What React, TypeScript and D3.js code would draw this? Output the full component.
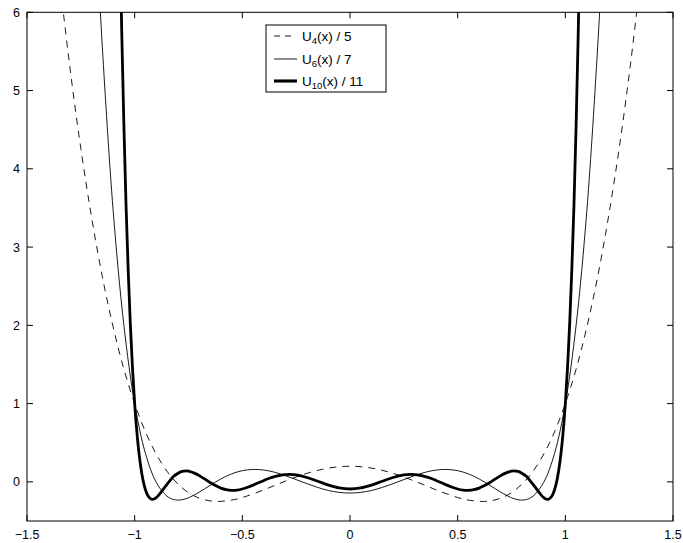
import React from "react";
import * as d3 from "d3";

// Values
const u4X = [-1.4, -1.35, -1.3, -1.25, -1.2, -1.15, -1.1, -1.05, -1, -0.95, -0.9, -0.85, -0.8, -0.75, -0.7, -0.65, -0.612, -0.55, -0.5, -0.4, -0.3, -0.2, -0.1, 0,
  0.1, 0.2, 0.3, 0.4, 0.5, 0.55, 0.612, 0.65, 0.7, 0.75, 0.8, 0.85, 0.9, 0.95, 1, 1.05, 1.1, 1.15, 1.2, 1.25, 1.3, 1.35, 1.4];
const u4Y = [7.79, 6.46, 5.28, 4.26, 3.38, 2.62, 1.98, 1.44, 1.0, 0.64, 0.356, 0.136, -0.025, -0.138, -0.208, -0.243, -0.25, -0.233, -0.2, -0.102, 0.01, 0.109, 0.176, 0.2,
  0.176, 0.109, 0.01, -0.102, -0.2, -0.233, -0.25, -0.243, -0.208, -0.138, -0.025, 0.136, 0.356, 0.64, 1.0, 1.44, 1.98, 2.62, 3.38, 4.26, 5.28, 6.46, 7.79];

const u6X = [-1.2, -1.17, -1.15, -1.1, -1.05, -1, -0.95, -0.9, -0.85, -0.82, -0.8, -0.78, -0.75, -0.7, -0.65, -0.6, -0.55, -0.5, -0.45, -0.4, -0.35, -0.3, -0.25, -0.2, -0.15, -0.1, -0.05, 0,
  0.05, 0.1, 0.15, 0.2, 0.25, 0.3, 0.35, 0.4, 0.45, 0.5, 0.55, 0.6, 0.65, 0.7, 0.75, 0.78, 0.8, 0.82, 0.85, 0.9, 0.95, 1, 1.05, 1.1, 1.15, 1.17, 1.2];
const u6Y = [8.4, 6.59, 5.55, 3.47, 2.0, 1.0, 0.364, -0.005, -0.183, -0.225, -0.233, -0.228, -0.203, -0.131, -0.045, 0.037, 0.102, 0.143, 0.159, 0.151, 0.123, 0.08, 0.029, -0.023, -0.071, -0.11, -0.134, -0.143,
  -0.134, -0.11, -0.071, -0.023, 0.029, 0.08, 0.123, 0.151, 0.159, 0.143, 0.102, 0.037, -0.045, -0.131, -0.203, -0.228, -0.233, -0.225, -0.183, -0.005, 0.364, 1.0, 2.0, 3.47, 5.55, 6.59, 8.4];

const u10X = [-1.07, -1.06, -1.05, -1.04, -1.03, -1.02, -1.01, -1, -0.99, -0.98, -0.97, -0.96, -0.95, -0.94, -0.93, -0.92, -0.91, -0.9, -0.89, -0.88, -0.86, -0.85, -0.84, -0.82, -0.8, -0.78, -0.76, -0.75, -0.72, -0.7, -0.67, -0.65, -0.62, -0.6, -0.575, -0.55, -0.525, -0.5, -0.475, -0.45, -0.425, -0.4, -0.375, -0.35, -0.325, -0.3, -0.28, -0.25, -0.2, -0.15, -0.1, -0.05, 0,
  0.05, 0.1, 0.15, 0.2, 0.25, 0.28, 0.3, 0.325, 0.35, 0.375, 0.4, 0.425, 0.45, 0.475, 0.5, 0.525, 0.55, 0.575, 0.6, 0.62, 0.65, 0.67, 0.7, 0.72, 0.75, 0.76, 0.78, 0.8, 0.82, 0.84, 0.85, 0.86, 0.88, 0.89, 0.9, 0.91, 0.92, 0.93, 0.94, 0.95, 0.96, 0.97, 0.98, 0.99, 1, 1.01, 1.02, 1.03, 1.04, 1.05, 1.06, 1.07];
const u10Y = [7.23, 5.75, 4.55, 3.53, 2.7, 2.01, 1.45, 1.0, 0.644, 0.368, 0.162, 0.006, -0.1, -0.169, -0.207, -0.223, -0.219, -0.202, -0.175, -0.142, -0.068, -0.031, 0.004, 0.069, 0.108, 0.133, 0.14, 0.137, 0.109, 0.08, 0.029, -0.008, -0.054, -0.08, -0.1, -0.108, -0.105, -0.091, -0.069, -0.042, -0.012, 0.018, 0.046, 0.068, 0.084, 0.093, 0.095, 0.088, 0.056, 0.008, -0.041, -0.078, -0.091,
  -0.078, -0.041, 0.008, 0.056, 0.088, 0.095, 0.093, 0.084, 0.068, 0.046, 0.018, -0.012, -0.042, -0.069, -0.091, -0.105, -0.108, -0.1, -0.08, -0.054, -0.008, 0.029, 0.08, 0.109, 0.137, 0.14, 0.133, 0.108, 0.069, 0.004, -0.031, -0.068, -0.142, -0.175, -0.202, -0.219, -0.223, -0.207, -0.169, -0.1, 0.006, 0.162, 0.368, 0.644, 1.0, 1.45, 2.01, 2.7, 3.53, 4.55, 5.75, 7.23];

const xTicks = [-1.5, -1, -0.5, 0, 0.5, 1, 1.5];
const xTickLabels = ["\u22121.5", "\u22121", "\u22120.5", "0", "0.5", "1", "1.5"];
const yTicks = [0, 1, 2, 3, 4, 5, 6];
const yTickLabels = ["0", "1", "2", "3", "4", "5", "6"];

const legendMain = ["U", "U", "U"];
const legendSub = ["4", "6", "10"];
const legendTail = ["(x) / 5", "(x) / 7", "(x) / 11"];

const W = 683, H = 543;
const L = 27, R = 673, T = 12.3, B = 521;

export default function App() {
  const x = d3.scaleLinear().domain([-1.5, 1.5]).range([L, R]);
  const y = d3.scaleLinear().domain([-0.5, 6]).range([B, T]);
  const line = d3.line<[number, number]>()
    .x(d => x(d[0]))
    .y(d => y(d[1]))
    .curve(d3.curveCatmullRom.alpha(0.5));
  const pts = (xs: number[], ys: number[]) => xs.map((v, i) => [v, ys[i]] as [number, number]);
  const series = [
    { d: line(pts(u4X, u4Y)), w: 0.9, dash: "7,6" },
    { d: line(pts(u6X, u6Y)), w: 0.9, dash: undefined },
    { d: line(pts(u10X, u10Y)), w: 2.8, dash: undefined },
  ];
  const tl = 6;
  const font = "'Liberation Sans', Arial, Helvetica, sans-serif";
  const legRows = [36, 59, 81];
  return (
    <svg width={W} height={H} style={{ position: "absolute", left: 0, top: 0, background: "#fff" }} fontFamily={font}>
      <defs>
        <clipPath id="plotclip">
          <rect x={L} y={T} width={R - L} height={B - T} />
        </clipPath>
      </defs>
      <rect x={0} y={0} width={W} height={H} fill="#fff" />
      <g clipPath="url(#plotclip)">
        {series.map((s, i) => (
          <path key={i} d={s.d || ""} fill="none" stroke="#000" strokeWidth={s.w} strokeDasharray={s.dash} strokeLinejoin="round" />
        ))}
      </g>
      <rect x={L} y={T} width={R - L} height={B - T} fill="none" stroke="#000" strokeWidth={1} />
      {xTicks.map((t, i) => (
        <g key={"x" + i}>
          <line x1={x(t)} x2={x(t)} y1={B} y2={B - tl} stroke="#000" strokeWidth={1} />
          <line x1={x(t)} x2={x(t)} y1={T} y2={T + tl} stroke="#000" strokeWidth={1} />
          <text x={x(t)} y={539} textAnchor="middle" fontSize={12.5} fill="#000">{xTickLabels[i]}</text>
        </g>
      ))}
      {yTicks.map((t, i) => (
        <g key={"y" + i}>
          <line x1={L} x2={L + tl} y1={y(t)} y2={y(t)} stroke="#000" strokeWidth={1} />
          <line x1={R} x2={R - tl} y1={y(t)} y2={y(t)} stroke="#000" strokeWidth={1} />
          <text x={20} y={y(t) + 4.5} textAnchor="end" fontSize={12.5} fill="#000">{yTickLabels[i]}</text>
        </g>
      ))}
      <g>
        <rect x={266} y={25} width={120} height={67} fill="#fff" stroke="#000" strokeWidth={1} />
        {legRows.map((ry, i) => (
          <g key={"l" + i}>
            <line x1={274} x2={i === 0 ? 291 : 297} y1={ry} y2={ry} stroke="#000" strokeWidth={series[i].w + (i === 2 ? 0.3 : 0)} strokeDasharray={i === 0 ? "6,5" : undefined} />
            <text x={302} y={ry + 4.5} fontSize={13.5} fill="#000">
              {legendMain[i]}
              <tspan fontSize={9.5} dy={3.5}>{legendSub[i]}</tspan>
              <tspan dy={-3.5}>{legendTail[i]}</tspan>
            </text>
          </g>
        ))}
      </g>
    </svg>
  );
}
